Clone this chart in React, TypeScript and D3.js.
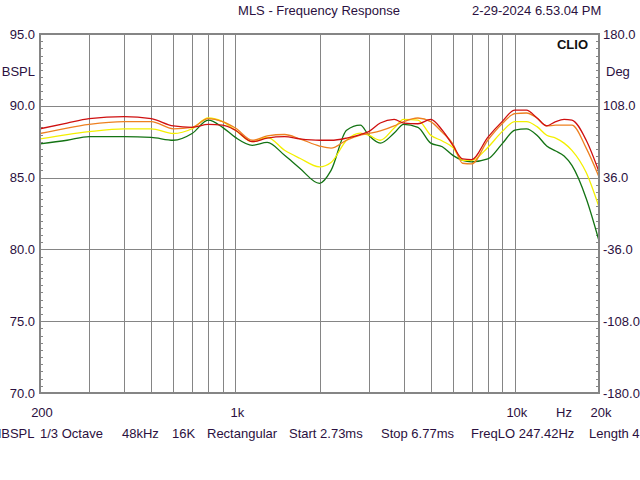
import React, { useRef, useEffect } from 'react';
import { select, scaleLog, scaleLinear, line, curveMonotoneX, range } from 'd3';

// frequency points (Hz) and SPL readings (dB) per trace
const freqs = [
    200, 250, 300, 400, 500, 600, 700, 800, 900, 1000, 1150, 1300, 1500, 1700, 2000, 2200, 2500, 2800, 3000, 3300,
    3700, 4000, 4500, 5000, 5500, 6000, 6500, 7000, 8000, 9000, 10000, 11000, 12000, 13000, 14000, 15000, 16000,
    18000, 20000,
];
const redTrace = [
    88.4, 88.8, 89.1, 89.25, 89.1, 88.6, 88.5, 88.7, 88.65, 88.3, 87.5, 87.75, 87.85, 87.7, 87.6, 87.6, 87.75, 88.0,
    88.2, 88.8, 89.05, 88.8, 88.75, 89.05, 88.3, 87.25, 86.3, 86.25, 87.8, 88.9, 89.7, 89.7, 89.15, 88.6, 88.9, 89.05,
    89.0, 87.6, 85.4,
];
const orangeTrace = [
    88.07, 88.45, 88.7, 88.9, 88.9, 88.4, 88.5, 89.1, 88.9, 88.45, 87.6, 87.9, 88.0, 87.7, 87.2, 87.05, 87.6, 87.95,
    88.07, 88.25, 88.6, 88.9, 89.15, 88.9, 88.15, 87.35, 86.0, 85.95, 87.6, 88.75, 89.45, 89.5, 89.15, 88.6, 88.65,
    88.65, 88.65, 87.05, 85.05,
];
const yellowTrace = [
    87.7, 88.0, 88.2, 88.4, 88.4, 88.07, 88.4, 89.15, 88.9, 88.3, 87.5, 87.8, 86.9, 86.35, 85.75, 86.05, 87.6, 88.1,
    87.95, 87.6, 88.45, 89.05, 89.0, 87.95, 87.55, 87.1, 86.2, 86.2, 87.1, 88.2, 88.9, 88.9, 88.55, 87.95, 87.75, 87.4,
    86.9, 85.35, 82.95,
];
const greenTrace = [
    87.35, 87.6, 87.85, 87.85, 87.8, 87.6, 88.07, 89.0, 88.5, 87.8, 87.25, 87.45, 86.55, 85.65, 84.6, 85.5, 88.3,
    88.65, 87.95, 87.4, 88.1, 88.7, 88.5, 87.4, 87.15, 86.55, 86.2, 86.1, 86.3, 87.35, 88.3, 88.4, 87.95, 87.2, 86.85,
    86.5, 85.85, 83.55, 80.6,
];

const splTicks = [95, 90, 85, 80, 75, 70];
const phaseTicks = [180, 108, 36, -36, -108, -180];
const gridFreqs = [300, 400, 500, 600, 700, 800, 900, 1000, 2000, 3000, 4000, 5000, 6000, 7000, 8000, 9000, 10000];
const freqLabels = [
    { f: 200, t: '200' },
    { f: 1000, t: '1k' },
    { f: 10000, t: '10k' },
    { f: 20000, t: '20k' },
];
const statusItems = [
    { x: -6, t: 'dBSPL' },
    { x: 40, t: '1/3 Octave' },
    { x: 122, t: '48kHz' },
    { x: 172, t: '16K' },
    { x: 207, t: 'Rectangular' },
    { x: 289, t: 'Start 2.73ms' },
    { x: 381, t: 'Stop 6.77ms' },
    { x: 471, t: 'FreqLO 247.42Hz' },
    { x: 589, t: 'Length 4.04ms' },
];

const traces = [
    { name: 'green', values: greenTrace, color: '#137313' },
    { name: 'yellow', values: yellowTrace, color: '#f4f000' },
    { name: 'orange', values: orangeTrace, color: '#ee8020' },
    { name: 'red', values: redTrace, color: '#cf1010' },
];

const W = 640;
const H = 480;
const left = 40;
const right = 599;
const top = 34;
const bottom = 393;
const textColor = '#2b1040';
const gridColor = '#858585';
const font = '"Liberation Sans", Arial, sans-serif';

export default function App() {
    const svgRef: { current: SVGSVGElement | null } = useRef(null);

    useEffect(() => {
        const svg = select(svgRef.current);
        svg.selectAll('*').remove();

        const xScale = scaleLog().domain([200, 20000]).range([left, right]);
        const yScale = scaleLinear().domain([70, 95]).range([bottom, top]);
        const phaseScale = scaleLinear().domain([-180, 180]).range([bottom, top]);

        svg.append('rect').attr('width', W).attr('height', H).attr('fill', '#fff');

        svg.append('defs')
            .append('clipPath')
            .attr('id', 'plotClip')
            .append('rect')
            .attr('x', left)
            .attr('y', top)
            .attr('width', right - left)
            .attr('height', bottom - top);

        // grid
        const grid = svg.append('g').attr('stroke', gridColor).attr('stroke-width', 1);
        grid.selectAll('.vgrid')
            .data(gridFreqs)
            .join('line')
            .attr('class', 'vgrid')
            .attr('x1', (d) => Math.round(xScale(d)) + 0.5)
            .attr('x2', (d) => Math.round(xScale(d)) + 0.5)
            .attr('y1', top)
            .attr('y2', bottom);
        grid.selectAll('.hgrid')
            .data(splTicks.slice(1, -1))
            .join('line')
            .attr('class', 'hgrid')
            .attr('x1', left)
            .attr('x2', right)
            .attr('y1', (d) => Math.round(yScale(d)) + 0.5)
            .attr('y2', (d) => Math.round(yScale(d)) + 0.5);

        // minor ticks every 0.5 dB, pointing inward
        const minor = range(70, 95.01, 0.5);
        grid.selectAll('.ltick')
            .data(minor)
            .join('line')
            .attr('class', 'ltick')
            .attr('x1', left)
            .attr('x2', left + 3)
            .attr('y1', (d) => Math.round(yScale(d)) + 0.5)
            .attr('y2', (d) => Math.round(yScale(d)) + 0.5);
        grid.selectAll('.rtick')
            .data(minor)
            .join('line')
            .attr('class', 'rtick')
            .attr('x1', right - 3)
            .attr('x2', right)
            .attr('y1', (d) => Math.round(yScale(d)) + 0.5)
            .attr('y2', (d) => Math.round(yScale(d)) + 0.5);

        // traces
        const traceLine: any = line<number>()
            .x((v, i) => xScale(freqs[i]))
            .y((v) => yScale(v))
            .curve(curveMonotoneX);

        svg.append('g')
            .attr('clip-path', 'url(#plotClip)')
            .selectAll('.trace')
            .data(traces)
            .join('path')
            .attr('class', 'trace')
            .attr('d', (d) => traceLine(d.values))
            .attr('fill', 'none')
            .attr('stroke', (d) => d.color)
            .attr('stroke-width', 1.3);

        // frame
        svg.append('rect')
            .attr('x', left)
            .attr('y', top)
            .attr('width', right - left)
            .attr('height', bottom - top)
            .attr('fill', 'none')
            .attr('stroke', gridColor)
            .attr('stroke-width', 2);

        const txt = svg.append('g').attr('font-family', font).attr('font-size', 13).attr('fill', textColor);

        txt.selectAll('.spl')
            .data(splTicks)
            .join('text')
            .attr('class', 'spl')
            .attr('x', 35)
            .attr('y', (d) => yScale(d))
            .attr('dy', '0.35em')
            .attr('text-anchor', 'end')
            .text((d) => d.toFixed(1));

        txt.selectAll('.phase')
            .data(phaseTicks)
            .join('text')
            .attr('class', 'phase')
            .attr('x', 603)
            .attr('y', (d) => phaseScale(d))
            .attr('dy', '0.35em')
            .text((d) => d.toFixed(1));

        txt.append('text').attr('x', 35).attr('y', 71).attr('dy', '0.35em').attr('text-anchor', 'end').text('BSPL');
        txt.append('text').attr('x', 606).attr('y', 71).attr('dy', '0.35em').text('Deg');

        txt.selectAll('.flabel')
            .data(freqLabels)
            .join('text')
            .attr('class', 'flabel')
            .attr('x', (d) => xScale(d.f) + 2)
            .attr('y', 417)
            .attr('text-anchor', 'middle')
            .text((d) => d.t);
        txt.append('text').attr('x', 564).attr('y', 417).attr('text-anchor', 'middle').text('Hz');

        txt.append('text').attr('x', 319).attr('y', 15).attr('text-anchor', 'middle').text('MLS - Frequency Response');
        txt.append('text').attr('x', 472).attr('y', 15).text('2-29-2024 6.53.04 PM');

        txt.append('text')
            .attr('x', 588)
            .attr('y', 49)
            .attr('text-anchor', 'end')
            .attr('font-weight', 'bold')
            .attr('fill', '#111')
            .text('CLIO');

        txt.selectAll('.status')
            .data(statusItems)
            .join('text')
            .attr('class', 'status')
            .attr('x', (d) => d.x)
            .attr('y', 438)
            .text((d) => d.t);
    }, []);

    return (
        <svg
            ref={svgRef}
            width={W}
            height={H}
            style={{ position: 'absolute', left: 0, top: 0, display: 'block' }}
        />
    );
}
